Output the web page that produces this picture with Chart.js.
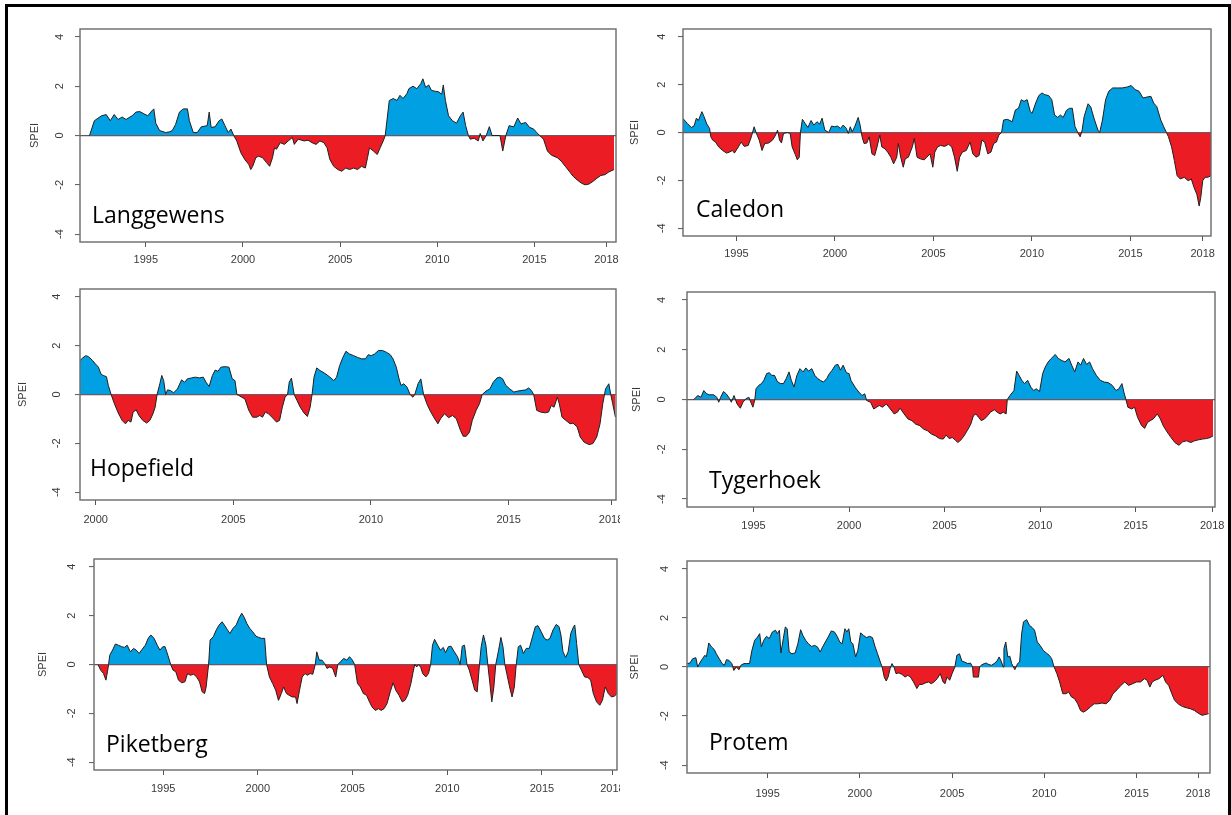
<!DOCTYPE html>
<html>
<head>
<meta charset="utf-8">
<script src="https://cdn.jsdelivr.net/npm/chart.js@4/dist/chart.umd.min.js"></script>
<style>
    body { margin: 0; background: #fff; width: 1231px; height: 815px; overflow: hidden; position: relative; }
    .frame { position: absolute; left: 5px; top: 4px; width: 1220px; height: 840px; border: 3px solid #000; }
    canvas { position: absolute; }
    .station { position: absolute; font-family: "Open Sans", sans-serif; font-size: 23px; line-height: 23px; color: #000; white-space: nowrap; }
</style>
</head>
<body>
<div class="frame"></div>
<script>
// SPEI values, [year, SPEI]
const langgewens = [
    [1992.1, 0.0], [1992.35, 0.6], [1992.72, 0.8], [1992.96, 0.85], [1993.17, 0.6], [1993.37, 0.85], [1993.57, 0.65], [1993.78, 0.75],
    [1993.98, 0.65], [1994.29, 0.8], [1994.49, 0.95], [1994.69, 0.97], [1994.9, 0.88], [1995.1, 0.8], [1995.31, 1.0], [1995.41, 1.08],
    [1995.51, 0.5], [1995.71, 0.2], [1996.02, 0.12], [1996.22, 0.15], [1996.36, 0.2], [1996.53, 0.45], [1996.73, 0.95], [1996.93, 1.08],
    [1997.14, 1.08], [1997.24, 0.6], [1997.44, 0.12], [1997.65, 0.12], [1997.85, 0.35], [1998.16, 0.4], [1998.26, 0.95], [1998.36, 0.33],
    [1998.56, 0.35], [1998.77, 0.6], [1998.91, 0.67], [1999.07, 0.4], [1999.24, 0.12], [1999.38, 0.26], [1999.52, 0.0],
    [1999.68, -0.22], [1999.89, -0.7], [2000.09, -0.97], [2000.3, -1.18], [2000.4, -1.38], [2000.5, -1.25], [2000.66, -0.9], [2000.8, -0.84],
    [2001.01, -0.9], [2001.21, -1.1], [2001.37, -1.25], [2001.52, -0.9], [2001.62, -0.5], [2001.72, -0.56], [2001.92, -0.29], [2002.13, -0.36],
    [2002.33, -0.22], [2002.54, -0.08], [2002.64, -0.36], [2002.84, -0.15], [2003.15, -0.22], [2003.35, -0.19], [2003.55, -0.29], [2003.76, -0.36],
    [2003.96, -0.22], [2004.16, -0.29], [2004.33, -0.5], [2004.47, -0.97], [2004.67, -1.25], [2004.88, -1.38], [2005.08, -1.45], [2005.29, -1.32],
    [2005.49, -1.38], [2005.69, -1.32], [2005.9, -1.38], [2006.1, -1.25], [2006.3, -1.32], [2006.41, -0.9], [2006.51, -0.5], [2006.71, -0.63],
    [2006.91, -0.77], [2007.06, -0.5], [2007.22, -0.22], [2007.32, 0.0],
    [2007.53, 1.42], [2007.73, 1.5], [2007.93, 1.42], [2008.08, 1.63], [2008.24, 1.5], [2008.44, 1.7], [2008.54, 1.9], [2008.75, 2.0],
    [2008.95, 1.9], [2009.15, 2.1], [2009.26, 2.3], [2009.4, 1.95], [2009.56, 2.05], [2009.7, 1.83], [2009.87, 1.8], [2010.07, 1.77],
    [2010.23, 1.67], [2010.31, 2.05], [2010.42, 1.42], [2010.58, 0.8], [2010.78, 0.6], [2010.99, 0.5], [2011.19, 0.8], [2011.33, 0.95],
    [2011.46, 0.4], [2011.6, 0.0], [2011.7, -0.15], [2011.9, -0.11], [2012.11, -0.22], [2012.21, 0.08], [2012.35, -0.22], [2012.52, 0.0],
    [2012.68, 0.36], [2012.82, 0.0], [2013.23, 0.0], [2013.37, -0.63], [2013.53, 0.0], [2013.7, 0.4], [2013.94, 0.35], [2014.14, 0.71],
    [2014.31, 0.47], [2014.55, 0.53], [2014.75, 0.33], [2014.96, 0.26], [2015.12, 0.12], [2015.27, 0.0],
    [2015.47, -0.15], [2015.67, -0.63], [2015.88, -0.8], [2016.18, -0.9], [2016.38, -1.04], [2016.59, -1.25], [2016.79, -1.45], [2017.0, -1.66],
    [2017.2, -1.8], [2017.41, -1.93], [2017.61, -2.0], [2017.81, -1.97], [2018.02, -1.86], [2018.22, -1.73], [2018.42, -1.62], [2018.63, -1.59],
    [2018.83, -1.48], [2019.1, -1.38],
];
const caledon = [
    [1992.27, 0.6], [1992.51, 0.38], [1992.71, 0.21], [1992.85, 0.27], [1992.97, 0.6], [1993.07, 0.5], [1993.25, 0.87], [1993.36, 0.66],
    [1993.5, 0.35], [1993.64, 0.17], [1993.7, -0.18], [1993.8, -0.32], [1993.94, -0.4], [1994.1, -0.6], [1994.3, -0.75], [1994.5, -0.86],
    [1994.64, -0.82], [1994.8, -0.75], [1994.9, -0.86], [1995.1, -0.6], [1995.24, -0.4], [1995.4, -0.58], [1995.6, -0.54], [1995.76, -0.18],
    [1995.9, 0.24], [1996.0, 0.0], [1996.16, -0.32], [1996.3, -0.75], [1996.44, -0.46], [1996.64, -0.44], [1996.83, -0.32], [1996.99, -0.11],
    [1997.09, 0.1], [1997.19, -0.32], [1997.29, -0.44], [1997.39, -0.04], [1997.59, 0.0], [1997.73, -0.04], [1997.83, -0.6], [1997.99, -0.92],
    [1998.09, -1.14], [1998.19, -1.03], [1998.25, 0.0], [1998.35, 0.55], [1998.49, 0.38], [1998.63, 0.21], [1998.79, 0.5], [1998.93, 0.31],
    [1999.09, 0.45], [1999.23, 0.35], [1999.35, 0.6], [1999.49, 0.1], [1999.69, 0.0], [1999.83, 0.27], [1999.99, 0.24], [2000.14, 0.27],
    [2000.28, 0.17], [2000.42, 0.31], [2000.58, 0.17], [2000.68, -0.04], [2000.78, 0.24], [2000.88, 0.03], [2001.02, 0.27], [2001.18, 0.63],
    [2001.28, 0.31], [2001.38, -0.18], [2001.48, -0.46], [2001.62, -0.44], [2001.74, -0.18], [2001.88, -0.89], [2002.02, -0.96], [2002.14, -0.6],
    [2002.28, -0.11], [2002.38, -0.6], [2002.54, -0.68], [2002.68, -0.82], [2002.84, -1.03], [2002.98, -1.31], [2003.14, -1.03], [2003.22, -0.46],
    [2003.34, -1.03], [2003.47, -1.45], [2003.57, -1.1], [2003.73, -1.03], [2003.93, -0.6], [2004.03, -0.25], [2004.17, -1.03], [2004.33, -1.1],
    [2004.53, -1.14], [2004.67, -1.03], [2004.83, -0.89], [2004.97, -1.45], [2005.07, -0.82], [2005.21, -0.6], [2005.37, -0.54], [2005.57, -0.58],
    [2005.77, -0.49], [2005.93, -0.6], [2006.07, -1.03], [2006.21, -1.62], [2006.33, -1.03], [2006.47, -0.82], [2006.67, -0.75], [2006.86, -0.4],
    [2007.0, -0.89], [2007.16, -1.03], [2007.32, -0.96], [2007.46, -0.32], [2007.6, -0.4], [2007.76, -0.89], [2007.92, -0.82], [2008.06, -0.46],
    [2008.2, -0.4], [2008.32, -0.11], [2008.46, 0.0], [2008.56, 0.52], [2008.76, 0.55], [2009.0, 0.45], [2009.16, 0.94], [2009.32, 1.01],
    [2009.46, 1.37], [2009.6, 1.3], [2009.76, 1.37], [2009.92, 0.87], [2010.01, 0.8], [2010.19, 1.23], [2010.35, 1.54], [2010.51, 1.65],
    [2010.65, 1.58], [2010.85, 1.54], [2011.01, 1.37], [2011.15, 0.73], [2011.31, 0.63], [2011.45, 0.73], [2011.59, 0.63], [2011.75, 0.92],
    [2011.91, 1.01], [2012.05, 1.01], [2012.19, 0.24], [2012.35, -0.04], [2012.45, -0.18], [2012.55, 0.1], [2012.65, 0.66], [2012.85, 1.2],
    [2012.99, 1.06], [2013.15, 0.6], [2013.35, 0.1], [2013.44, 0.0], [2013.58, 0.52], [2013.74, 1.37], [2013.9, 1.72], [2014.1, 1.86],
    [2014.34, 1.86], [2014.58, 1.86], [2014.84, 1.9], [2015.04, 1.96], [2015.24, 1.79], [2015.44, 1.72], [2015.64, 1.44], [2015.84, 1.48],
    [2016.04, 1.51], [2016.18, 1.23], [2016.34, 1.08], [2016.54, 0.52], [2016.69, 0.24], [2016.83, 0.0], [2016.93, -0.18], [2017.09, -0.6],
    [2017.23, -1.17], [2017.37, -1.8], [2017.53, -1.94], [2017.73, -1.87], [2017.93, -2.01], [2018.09, -1.94], [2018.23, -2.3], [2018.37, -2.58],
    [2018.49, -3.07], [2018.57, -2.72], [2018.67, -2.01], [2018.79, -1.87], [2018.93, -1.87], [2019.09, -1.8],
];
const hopefield = [
    [1999.43, 1.39], [1999.53, 1.5], [1999.64, 1.59], [1999.74, 1.55], [1999.89, 1.39], [1999.99, 1.25], [2000.1, 1.12], [2000.19, 0.84],
    [2000.27, 0.78], [2000.39, 0.73], [2000.46, 0.37], [2000.56, 0.0], [2000.68, -0.38], [2000.82, -0.76], [2000.96, -1.06], [2001.08, -1.2],
    [2001.18, -1.06], [2001.28, -1.13], [2001.36, -0.72], [2001.47, -0.63], [2001.57, -0.86], [2001.71, -1.06], [2001.85, -1.17], [2001.97, -1.06],
    [2002.08, -0.79], [2002.16, -0.52], [2002.23, 0.0], [2002.33, 0.44], [2002.4, 0.78], [2002.47, 0.57], [2002.54, 0.0], [2002.61, 0.19],
    [2002.72, 0.16], [2002.83, 0.07], [2002.97, 0.23], [2003.12, 0.6], [2003.23, 0.5], [2003.33, 0.64], [2003.48, 0.68], [2003.62, 0.71],
    [2003.76, 0.68], [2003.91, 0.71], [2004.01, 0.5], [2004.12, 0.33], [2004.24, 0.78], [2004.34, 1.0], [2004.44, 0.95], [2004.55, 1.12],
    [2004.7, 1.14], [2004.84, 1.12], [2004.96, 0.64], [2005.06, 0.57], [2005.13, 0.0], [2005.2, -0.04], [2005.3, -0.11], [2005.42, -0.18],
    [2005.56, -0.65], [2005.7, -0.93], [2005.85, -0.93], [2005.96, -0.86], [2006.06, -0.93], [2006.16, -0.72], [2006.28, -0.79], [2006.42, -0.95],
    [2006.57, -1.13], [2006.68, -1.06], [2006.78, -0.52], [2006.88, -0.11], [2006.97, 0.0], [2007.03, 0.5], [2007.11, 0.67], [2007.21, 0.0],
    [2007.31, -0.24], [2007.43, -0.52], [2007.57, -0.76], [2007.69, -0.9], [2007.79, -0.52], [2007.86, 0.0], [2007.93, 0.71], [2008.03, 1.09],
    [2008.15, 0.98], [2008.26, 0.91], [2008.36, 0.84], [2008.51, 0.71], [2008.65, 0.57], [2008.75, 0.71], [2008.86, 1.18], [2008.98, 1.52],
    [2009.09, 1.77], [2009.22, 1.66], [2009.37, 1.59], [2009.51, 1.52], [2009.66, 1.46], [2009.8, 1.46], [2009.9, 1.63], [2010.01, 1.59],
    [2010.13, 1.66], [2010.27, 1.8], [2010.42, 1.8], [2010.56, 1.73], [2010.7, 1.63], [2010.8, 1.46], [2010.92, 1.12], [2011.02, 0.64],
    [2011.09, 0.37], [2011.19, 0.44], [2011.31, 0.3], [2011.42, 0.0], [2011.52, -0.11], [2011.59, 0.0], [2011.71, 0.44], [2011.81, 0.64],
    [2011.91, 0.0], [2012.03, -0.38], [2012.14, -0.65], [2012.28, -0.93], [2012.43, -1.2], [2012.53, -0.99], [2012.67, -0.79], [2012.82, -0.95],
    [2012.96, -0.86], [2013.1, -0.99], [2013.25, -1.47], [2013.35, -1.71], [2013.46, -1.71], [2013.58, -1.54], [2013.68, -1.06], [2013.82, -0.65],
    [2013.94, -0.38], [2014.04, 0.0], [2014.18, 0.14], [2014.32, 0.23], [2014.44, 0.5], [2014.58, 0.68], [2014.68, 0.71], [2014.78, 0.64],
    [2014.9, 0.37], [2015.04, 0.23], [2015.19, 0.1], [2015.33, 0.14], [2015.45, 0.16], [2015.62, 0.19], [2015.73, 0.27], [2015.83, 0.16],
    [2015.91, 0.0], [2016.02, -0.65], [2016.16, -0.72], [2016.34, -0.75], [2016.45, -0.72], [2016.55, -0.45], [2016.65, -0.52], [2016.77, -0.11],
    [2016.84, -0.38], [2016.94, -0.93], [2017.08, -1.06], [2017.23, -1.2], [2017.34, -1.17], [2017.49, -1.33], [2017.6, -1.74], [2017.74, -1.95],
    [2017.92, -2.05], [2018.06, -2.01], [2018.2, -1.74], [2018.32, -1.2], [2018.42, -0.38], [2018.52, 0.23], [2018.64, 0.44], [2018.71, 0.0],
    [2018.78, -0.38], [2018.88, -0.93],
];
const tygerhoek = [
    [1991.88, 0.0], [1991.99, 0.09], [1992.09, 0.16], [1992.25, 0.09], [1992.4, 0.36], [1992.54, 0.23], [1992.7, 0.19], [1992.91, 0.19],
    [1993.08, 0.09], [1993.18, -0.11], [1993.28, 0.09], [1993.43, 0.32], [1993.57, 0.23], [1993.74, 0.05], [1993.84, -0.11], [1993.98, 0.16],
    [1994.14, -0.18], [1994.31, -0.35], [1994.45, -0.11], [1994.6, 0.03], [1994.76, 0.09], [1994.86, -0.11], [1994.97, -0.31], [1995.07, 0.0],
    [1995.13, 0.43], [1995.28, 0.57], [1995.42, 0.64], [1995.54, 0.77], [1995.69, 1.04], [1995.83, 1.08], [1995.95, 0.97], [1996.1, 0.97],
    [1996.24, 0.73], [1996.4, 0.64], [1996.57, 0.64], [1996.71, 0.84], [1996.86, 1.11], [1996.98, 0.77], [1997.12, 0.5], [1997.27, 0.97],
    [1997.43, 1.24], [1997.6, 1.11], [1997.74, 1.27], [1997.88, 1.14], [1998.05, 1.24], [1998.21, 0.97], [1998.36, 0.84], [1998.5, 0.77],
    [1998.66, 0.7], [1998.83, 0.84], [1998.97, 1.04], [1999.12, 1.18], [1999.28, 1.38], [1999.42, 1.41], [1999.55, 1.18], [1999.69, 1.38],
    [1999.86, 1.08], [2000.0, 1.04], [2000.1, 0.77], [2000.31, 0.5], [2000.51, 0.3], [2000.68, 0.16], [2000.82, 0.23], [2000.92, -0.04],
    [2001.13, -0.11], [2001.29, -0.38], [2001.44, -0.31], [2001.58, -0.24], [2001.75, -0.31], [2001.95, -0.18], [2002.16, -0.38], [2002.36, -0.58],
    [2002.53, -0.51], [2002.67, -0.35], [2002.88, -0.58], [2003.08, -0.78], [2003.29, -0.85], [2003.49, -0.99], [2003.7, -1.05], [2003.9, -1.19],
    [2004.11, -1.26], [2004.31, -1.39], [2004.52, -1.46], [2004.73, -1.57], [2004.93, -1.59], [2005.08, -1.43], [2005.24, -1.57], [2005.4, -1.53],
    [2005.55, -1.62], [2005.69, -1.73], [2005.86, -1.62], [2006.02, -1.46], [2006.23, -1.19], [2006.37, -0.99], [2006.51, -0.65], [2006.64, -0.58],
    [2006.78, -0.72], [2006.92, -0.85], [2007.09, -0.78], [2007.25, -0.65], [2007.4, -0.51], [2007.6, -0.41], [2007.75, -0.51], [2007.91, -0.58],
    [2008.07, -0.51], [2008.22, -0.58], [2008.28, 0.0], [2008.42, 0.16], [2008.63, 0.36], [2008.77, 1.14], [2008.9, 0.97], [2009.04, 0.77],
    [2009.18, 0.64], [2009.35, 0.77], [2009.51, 0.5], [2009.66, 0.36], [2009.8, 0.43], [2009.97, 0.32], [2010.13, 1.04], [2010.27, 1.31],
    [2010.42, 1.51], [2010.58, 1.65], [2010.79, 1.81], [2010.95, 1.65], [2011.1, 1.58], [2011.3, 1.51], [2011.51, 1.65], [2011.65, 1.38],
    [2011.81, 1.11], [2011.98, 1.51], [2012.12, 1.38], [2012.27, 1.65], [2012.43, 1.41], [2012.59, 1.51], [2012.74, 1.24], [2012.94, 0.97],
    [2013.15, 0.77], [2013.36, 0.7], [2013.56, 0.68], [2013.77, 0.57], [2013.97, 0.36], [2014.12, 0.43], [2014.28, 0.64], [2014.38, 0.3],
    [2014.49, 0.0], [2014.59, -0.31], [2014.79, -0.38], [2014.94, -0.31], [2015.1, -0.72], [2015.31, -1.05], [2015.47, -1.16], [2015.62, -0.92],
    [2015.76, -0.85], [2015.92, -0.78], [2016.13, -0.58], [2016.29, -0.78], [2016.44, -1.05], [2016.64, -1.3], [2016.85, -1.53], [2017.05, -1.73],
    [2017.26, -1.84], [2017.46, -1.7], [2017.67, -1.66], [2017.88, -1.73], [2018.08, -1.66], [2018.29, -1.62], [2018.49, -1.59], [2018.7, -1.57],
    [2018.9, -1.53], [2019.05, -1.46],
];
const piketberg = [
    [1991.56, 0.0], [1991.7, -0.23], [1991.85, -0.37], [1991.98, -0.64], [1992.06, -0.3], [1992.12, 0.0], [1992.18, 0.38], [1992.33, 0.59],
    [1992.48, 0.84], [1992.64, 0.79], [1992.81, 0.73], [1992.96, 0.7], [1993.1, 0.79], [1993.27, 0.52], [1993.44, 0.66], [1993.58, 0.59],
    [1993.73, 0.45], [1993.89, 0.62], [1994.06, 0.79], [1994.21, 1.07], [1994.35, 1.21], [1994.52, 1.07], [1994.69, 0.79], [1994.83, 0.59],
    [1994.98, 0.73], [1995.1, 0.73], [1995.25, 0.38], [1995.4, 0.0], [1995.52, -0.23], [1995.67, -0.3], [1995.81, -0.64], [1995.98, -0.75],
    [1996.15, -0.71], [1996.29, -0.37], [1996.44, -0.44], [1996.61, -0.4], [1996.77, -0.51], [1996.92, -0.71], [1997.06, -1.12], [1997.19, -1.19],
    [1997.27, -0.92], [1997.4, 0.0], [1997.48, 1.0], [1997.65, 1.14], [1997.82, 1.44], [1997.96, 1.62], [1998.11, 1.75], [1998.23, 1.62],
    [1998.38, 1.44], [1998.52, 1.27], [1998.69, 1.48], [1998.86, 1.62], [1999.0, 1.89], [1999.15, 2.1], [1999.28, 1.93], [1999.42, 1.68],
    [1999.57, 1.48], [1999.73, 1.34], [1999.9, 1.16], [2000.05, 1.11], [2000.19, 1.07], [2000.36, 1.07], [2000.46, 0.0], [2000.61, -0.51],
    [2000.78, -0.78], [2000.94, -1.05], [2001.09, -1.47], [2001.24, -1.19], [2001.36, -0.92], [2001.51, -1.19], [2001.65, -1.26], [2001.82, -1.33],
    [2001.99, -1.33], [2002.07, -1.6], [2002.2, -1.05], [2002.34, -0.51], [2002.49, -0.37], [2002.61, -0.44], [2002.76, -0.37], [2002.9, -0.4],
    [2003.03, 0.0], [2003.11, 0.52], [2003.24, 0.18], [2003.38, 0.18], [2003.53, 0.04], [2003.65, -0.16], [2003.8, -0.1], [2003.95, -0.16],
    [2004.11, -0.51], [2004.22, 0.0], [2004.36, 0.11], [2004.53, 0.25], [2004.7, 0.18], [2004.84, 0.32], [2004.99, 0.18], [2005.11, 0.0],
    [2005.26, -0.78], [2005.41, -0.92], [2005.57, -1.19], [2005.74, -1.26], [2005.89, -1.53], [2006.03, -1.74], [2006.2, -1.88], [2006.37, -1.81],
    [2006.51, -1.88], [2006.66, -1.81], [2006.82, -1.6], [2006.99, -1.12], [2007.14, -0.75], [2007.28, -1.05], [2007.45, -1.26], [2007.62, -1.53],
    [2007.76, -1.47], [2007.91, -1.26], [2008.08, -0.78], [2008.18, -0.37], [2008.28, 0.0], [2008.39, -0.1], [2008.49, 0.0], [2008.6, -0.12],
    [2008.7, -0.37], [2008.87, -0.51], [2009.01, -0.37], [2009.12, 0.0], [2009.22, 0.79], [2009.33, 1.03], [2009.49, 0.79], [2009.64, 0.59],
    [2009.79, 0.7], [2009.91, 0.48], [2010.06, 0.73], [2010.2, 0.75], [2010.37, 0.52], [2010.54, 0.32], [2010.68, 0.0], [2010.79, 0.75],
    [2010.91, 0.79], [2011.04, 0.0], [2011.16, -0.23], [2011.31, -0.64], [2011.45, -1.05], [2011.58, -1.12], [2011.7, 0.0], [2011.79, 0.73],
    [2011.91, 1.21], [2012.04, 0.79], [2012.14, 0.0], [2012.25, -0.78], [2012.35, -1.53], [2012.46, -0.92], [2012.56, 0.0], [2012.71, 0.59],
    [2012.83, 1.11], [2012.94, 0.73], [2013.04, 0.0], [2013.14, -0.37], [2013.29, -0.92], [2013.42, -1.33], [2013.54, -0.92], [2013.64, 0.0],
    [2013.75, 0.73], [2013.87, 0.79], [2014.02, 0.45], [2014.17, 0.66], [2014.33, 0.66], [2014.5, 1.14], [2014.65, 1.55], [2014.79, 1.59],
    [2014.96, 1.34], [2015.13, 1.07], [2015.27, 1.0], [2015.42, 1.07], [2015.58, 1.41], [2015.75, 1.64], [2015.9, 1.55], [2016.0, 1.21],
    [2016.11, 0.52], [2016.25, 0.29], [2016.38, 0.52], [2016.52, 1.27], [2016.67, 1.55], [2016.73, 1.62], [2016.83, 0.86], [2016.94, 0.0],
    [2017.08, -0.23], [2017.25, -0.51], [2017.42, -0.53], [2017.57, -0.64], [2017.71, -1.19], [2017.88, -1.53], [2018.05, -1.67], [2018.19, -1.47],
    [2018.34, -0.92], [2018.5, -1.19], [2018.67, -1.33], [2018.82, -1.3], [2018.96, -1.19],
];
const protem = [
    [1990.64, 0.14], [1990.79, 0.16], [1990.94, 0.34], [1991.11, 0.38], [1991.21, 0.0], [1991.32, 0.16], [1991.47, 0.34], [1991.6, 0.48],
    [1991.68, 0.41], [1991.81, 0.98], [1991.96, 0.82], [1992.11, 0.71], [1992.23, 0.52], [1992.38, 0.34], [1992.53, 0.14], [1992.66, 0.07],
    [1992.77, 0.3], [1992.91, 0.27], [1993.06, 0.14], [1993.17, -0.14], [1993.3, 0.0], [1993.45, -0.11], [1993.55, 0.07], [1993.72, 0.14],
    [1993.87, 0.14], [1994.02, 0.14], [1994.15, 0.68], [1994.3, 1.09], [1994.45, 1.22], [1994.57, 1.36], [1994.66, 0.82], [1994.79, 1.09],
    [1994.94, 1.25], [1995.09, 1.16], [1995.26, 1.43], [1995.43, 1.5], [1995.53, 1.36], [1995.64, 1.5], [1995.72, 0.57], [1995.85, 1.16],
    [1995.96, 1.63], [1996.06, 1.56], [1996.17, 0.61], [1996.32, 0.54], [1996.49, 0.57], [1996.64, 0.95], [1996.79, 1.52], [1996.91, 1.29],
    [1997.06, 1.09], [1997.21, 0.95], [1997.38, 0.84], [1997.55, 0.88], [1997.7, 0.82], [1997.85, 0.61], [1997.98, 0.82], [1998.13, 1.02],
    [1998.28, 1.22], [1998.45, 1.47], [1998.62, 1.43], [1998.77, 1.25], [1998.91, 1.02], [1999.04, 0.95], [1999.19, 1.56], [1999.3, 1.43],
    [1999.4, 1.56], [1999.51, 1.02], [1999.62, 0.95], [1999.77, 0.41], [1999.89, 0.68], [2000.04, 1.39], [2000.19, 1.29], [2000.36, 1.2],
    [2000.53, 1.25], [2000.68, 1.2], [2000.83, 0.82], [2000.96, 0.54], [2001.11, 0.2], [2001.21, 0.0], [2001.32, -0.41], [2001.43, -0.57],
    [2001.53, -0.41], [2001.64, -0.07], [2001.74, 0.14], [2001.85, 0.0], [2001.96, -0.27], [2002.11, -0.24], [2002.28, -0.3], [2002.45, -0.41],
    [2002.6, -0.34], [2002.74, -0.41], [2002.91, -0.61], [2003.09, -0.88], [2003.23, -0.71], [2003.38, -0.71], [2003.55, -0.65], [2003.72, -0.61],
    [2003.87, -0.68], [2004.02, -0.61], [2004.19, -0.48], [2004.36, -0.27], [2004.51, -0.61], [2004.62, -0.68], [2004.72, -0.41], [2004.87, -0.54],
    [2005.0, -0.27], [2005.15, 0.0], [2005.26, 0.48], [2005.4, 0.54], [2005.53, 0.24], [2005.68, 0.2], [2005.85, 0.14], [2006.0, 0.16],
    [2006.11, 0.0], [2006.15, -0.41], [2006.28, -0.41], [2006.43, -0.41], [2006.49, 0.0], [2006.57, 0.07], [2006.74, 0.14], [2006.85, 0.16],
    [2006.96, 0.11], [2007.13, 0.07], [2007.28, 0.14], [2007.43, 0.24], [2007.55, 0.41], [2007.66, 0.24], [2007.77, 0.0], [2007.81, 0.75],
    [2007.91, 1.02], [2008.02, 0.41], [2008.13, 0.44], [2008.23, 0.14], [2008.4, -0.11], [2008.55, 0.14], [2008.66, 0.2], [2008.77, 1.36],
    [2008.87, 1.84], [2009.04, 1.93], [2009.19, 1.7], [2009.34, 1.61], [2009.47, 1.5], [2009.62, 1.02], [2009.77, 0.88], [2009.94, 0.68],
    [2010.11, 0.57], [2010.26, 0.48], [2010.4, 0.34], [2010.53, 0.0], [2010.68, -0.27], [2010.83, -0.61], [2011.0, -1.09], [2011.17, -1.09],
    [2011.32, -1.02], [2011.47, -1.22], [2011.64, -1.29], [2011.81, -1.5], [2011.96, -1.77], [2012.11, -1.84], [2012.28, -1.77], [2012.49, -1.63],
    [2012.7, -1.5], [2012.91, -1.5], [2013.13, -1.47], [2013.34, -1.5], [2013.55, -1.36], [2013.72, -1.09], [2013.94, -0.93], [2014.15, -0.75],
    [2014.36, -0.61], [2014.57, -0.75], [2014.79, -0.68], [2015.0, -0.61], [2015.21, -0.61], [2015.43, -0.48], [2015.57, -0.54], [2015.72, -0.82],
    [2015.85, -0.61], [2016.0, -0.54], [2016.21, -0.48], [2016.43, -0.34], [2016.57, -0.61], [2016.74, -0.75], [2016.91, -1.09], [2017.06, -1.36],
    [2017.28, -1.52], [2017.49, -1.61], [2017.7, -1.66], [2017.91, -1.7], [2018.13, -1.77], [2018.34, -1.88], [2018.55, -1.97], [2018.77, -1.93],
    [2018.91, -1.9],
];

const yTicks = [-4, -2, 0, 2, 4];
const yearTicks = [1995, 2000, 2005, 2010, 2015];
const hopefieldYearTicks = [2000, 2005, 2010, 2015];
const endLabel = "2018";

// box = plot frame [left, top, right, bottom] in page pixels
const panels = [
    { name: "Langgewens", data: langgewens, years: yearTicks, min: 1991.61, max: 2019.2, end: 2018.71,
      box: [80, 29, 616, 242], spei: 35, tickX: 60, labelY: 259, clip: 620, nameAt: [92, 223] },
    { name: "Caledon", data: caledon, years: yearTicks, min: 1992.29, max: 2019.09, end: 2018.67,
      box: [683, 29, 1211, 236], spei: 635, tickX: 662, labelY: 253, clip: 1226, nameAt: [696, 217] },
    { name: "Hopefield", data: hopefield, years: hopefieldYearTicks, min: 1999.43, max: 2018.9, end: 2018.72,
      box: [80, 289, 616, 500], spei: 23, tickX: 57, labelY: 519, clip: 620, nameAt: [90, 476] },
    { name: "Tygerhoek", data: tygerhoek, years: yearTicks, min: 1991.52, max: 2019.15, end: 2019.0,
      box: [687, 292, 1215, 507], spei: 637, tickX: 662, labelY: 525, clip: 1226, nameAt: [709, 488] },
    { name: "Piketberg", data: piketberg, years: yearTicks, min: 1991.35, max: 2018.96, end: 2018.72,
      box: [94, 559, 617, 770], spei: 43, tickX: 72, labelY: 788, clip: 620, nameAt: [106, 752] },
    { name: "Protem", data: protem, years: yearTicks, min: 1990.63, max: 2018.98, end: 2018.33,
      box: [687, 561, 1210, 773], spei: 635, tickX: 665, labelY: 793, clip: 1226, nameAt: [709, 750] },
];

const axisFont = { family: "'Liberation Sans', Arial, sans-serif", size: 11 };
const axisColor = "#3a3a3a";

const frameBox = {
    id: "frameBox",
    afterDatasetsDraw(chart) {
        const { ctx, chartArea: a } = chart;
        ctx.save();
        ctx.strokeStyle = "#6a6a6a";
        ctx.lineWidth = 1.4;
        ctx.strokeRect(a.left, a.top, a.right - a.left, a.bottom - a.top);
        ctx.restore();
    },
};

panels.forEach((p) => {
    const [l, t, r, b] = p.box;
    const left = Math.round(p.spei - 6.6);
    const top = t - 12;
    const bottom = p.labelY + 13;
    const canvas = document.createElement("canvas");
    canvas.width = p.clip - left;
    canvas.height = bottom - top;
    canvas.style.left = left + "px";
    canvas.style.top = top + "px";
    document.body.appendChild(canvas);

    const label = document.createElement("div");
    label.className = "station";
    label.textContent = p.name;
    label.style.left = p.nameAt[0] + "px";
    label.style.top = p.nameAt[1] - 20 + "px";
    document.body.appendChild(label);

    new Chart(canvas, {
        type: "line",
        data: {
            datasets: [
                {
                    data: p.data,
                    borderColor: "#1f1f1f",
                    borderWidth: 1,
                    pointRadius: 0,
                    tension: 0,
                    fill: { target: { value: 0 }, above: "#00a0e3", below: "#ec1c24" },
                },
            ],
        },
        options: {
            responsive: false,
            animation: false,
            events: [],
            layout: { padding: { left: 0, top: 12, right: p.clip - r, bottom: 0 } },
            plugins: { legend: { display: false }, tooltip: { enabled: false } },
            scales: {
                x: {
                    type: "linear",
                    min: p.min,
                    max: p.max,
                    afterBuildTicks: (s) => {
                        s.ticks = [...p.years, p.end].map((v) => ({ value: v }));
                    },
                    afterFit: (s) => {
                        s.height = bottom - b;
                        s.paddingLeft = 0;
                        s.paddingRight = 0;
                    },
                    border: { display: false },
                    grid: { drawOnChartArea: false, tickLength: 5, tickColor: "#555", tickWidth: 1 },
                    ticks: {
                        font: axisFont,
                        color: axisColor,
                        padding: p.labelY - b - 11,
                        maxRotation: 0,
                        autoSkip: false,
                        callback: (v) => (v === p.end ? endLabel : String(v)),
                    },
                },
                y: {
                    min: -4.32,
                    max: 4.32,
                    afterBuildTicks: (s) => {
                        s.ticks = yTicks.map((v) => ({ value: v }));
                    },
                    afterFit: (s) => {
                        s.width = l - left;
                        s.paddingTop = 0;
                        s.paddingBottom = 0;
                    },
                    border: { display: false },
                    grid: {
                        color: (c) => (c.tick && c.tick.value === 0 ? "#5a5a5a" : "rgba(0,0,0,0)"),
                        lineWidth: 1.2,
                        tickLength: 5,
                        tickColor: "#555",
                        tickWidth: 1,
                    },
                    ticks: {
                        font: axisFont,
                        color: axisColor,
                        minRotation: 90,
                        maxRotation: 90,
                        crossAlign: "center",
                        padding: l - p.tickX - 10,
                        callback: (v) => String(v),
                    },
                    title: { display: true, text: "SPEI", font: axisFont, color: axisColor, padding: 0 },
                },
            },
        },
        plugins: [frameBox],
    });
});
</script>
</body>
</html>
